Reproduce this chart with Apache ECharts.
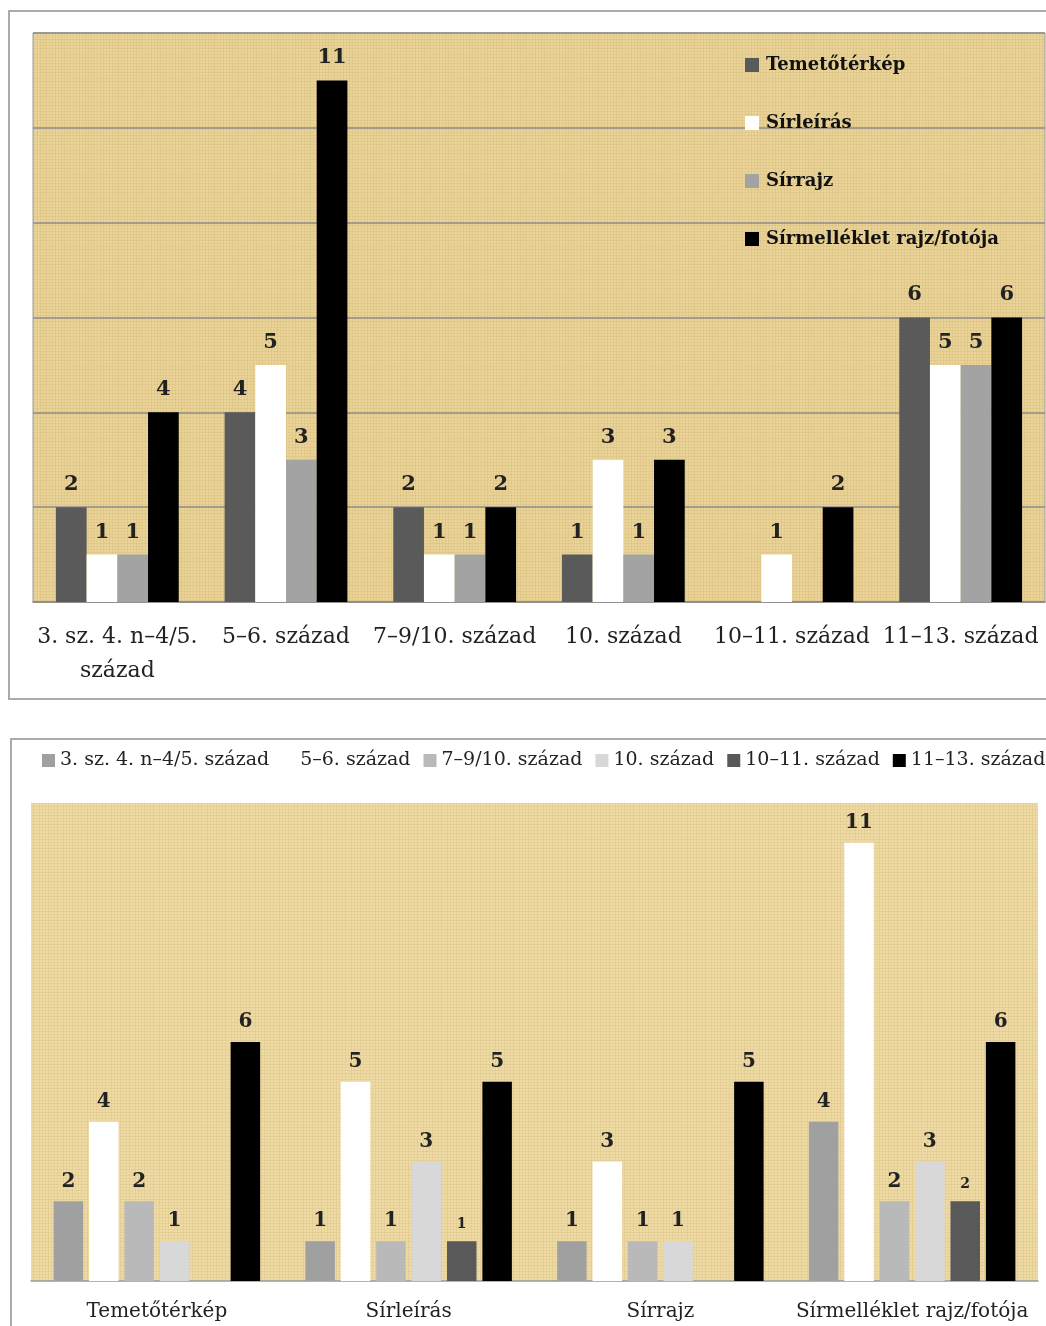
<!DOCTYPE html>
<html><head><meta charset="utf-8">
<script src="https://cdn.jsdelivr.net/npm/echarts@6/dist/echarts.min.js"></script>
<style>
html,body{margin:0;padding:0;background:#fff;overflow:hidden;width:1046px;height:1326px;}
#c1{position:absolute;left:8px;top:10px;width:1100px;height:686px;border:2px solid #ababab;}
#c2{position:absolute;left:10px;top:738px;width:1100px;height:700px;border:2px solid #ababab;}
</style></head>
<body>
<div id="c1"></div>
<div id="c2"></div>
<script>
// ---- data ----
const periods = ['3. sz. 4. n–4/5. század','5–6. század','7–9/10. század','10. század','10–11. század','11–13. század'];
const types = ['Temetőtérkép','Sírleírás','Sírrajz','Sírmelléklet rajz/fotója'];
const temetoterkep = [2,4,2,1,0,6];
const sirleiras    = [1,5,1,3,1,5];
const sirrajz      = [1,3,1,1,0,5];
const sirmelleklet = [4,11,2,3,2,6];
const yTicks = [0,2,4,6,8,10,12];

// ---- styles ----
const typeColors = ['#5a5a5a','#ffffff','#a3a3a3','#000000'];
const periodColors = ['#a0a0a0','#ffffff','#b9b9b9','#d8d8d8','#595959','#000000'];
const FONT = 'DejaVu Serif';

function papyrus(base){
  const c = document.createElement('canvas');
  c.width = 96; c.height = 96;
  const g = c.getContext('2d');
  g.fillStyle = base; g.fillRect(0,0,96,96);
  for (let i=0;i<96;i+=3){
    const a = 0.04 + 0.05*Math.abs(Math.sin(i*1.7));
    g.fillStyle = 'rgba(150,110,40,'+a.toFixed(3)+')';
    g.fillRect(i,0,1,96);
    g.fillRect(0,i,96,1);
    const b = 0.08*Math.abs(Math.cos(i*0.9));
    g.fillStyle = 'rgba(255,245,210,'+b.toFixed(3)+')';
    g.fillRect(i+1,0,1,96);
  }
  return {image:c, repeat:'repeat'};
}
const hideZero = p => p.value === 0 ? '' : String(p.value);

// ---- top chart ----
const typeData = [temetoterkep, sirleiras, sirrajz, sirmelleklet];
const ch1 = echarts.init(document.getElementById('c1'));
ch1.setOption({
  animation:false,
  grid:{left:23, top:21, width:1012, height:569, show:true, backgroundColor:papyrus('#e9d296'), borderColor:'#9a9a9a', borderWidth:1},
  legend:{
    orient:'vertical', left:735, top:43, padding:0, itemWidth:14, itemHeight:14, itemGap:38,
    icon:'rect',
    data: types,
    textStyle:{fontFamily:FONT, fontWeight:'bold', fontSize:18, color:'#111', lineHeight:20, padding:[0,0,0,2]}
  },
  xAxis:{
    type:'category', data:periods,
    axisLine:{lineStyle:{color:'#8c8c8c', width:1.5}},
    axisTick:{show:false},
    axisLabel:{interval:0, margin:18, fontFamily:FONT, fontSize:22, color:'#222', lineHeight:34,
      formatter:(v,i)=> i===0 ? v.replace('/5. ','/5.\n') : v}
  },
  yAxis:{
    type:'value', min:yTicks[0], max:yTicks[yTicks.length-1], interval:yTicks[1]-yTicks[0],
    axisLabel:{show:false}, axisLine:{show:false}, axisTick:{show:false},
    splitLine:{lineStyle:{color:'#8c8c8c', width:1.5}}
  },
  series: types.map((t,i)=>({
    name:t, type:'bar', data:typeData[i], barWidth:30.7, barGap:'0%',
    itemStyle:{color:typeColors[i]},
    label:{show:true, position:'top', distance:12, formatter:hideZero,
      fontFamily:FONT, fontWeight:'bold', fontSize:21, color:'#222'}
  }))
});

// ---- bottom chart ----
const ch2 = echarts.init(document.getElementById('c2'));
ch2.setOption({
  animation:false,
  grid:{left:19, top:63, width:1007, height:478, show:true, backgroundColor:papyrus('#eedaa3'), borderWidth:0},
  legend:{
    orient:'horizontal', left:30, top:11, padding:0, width:1068, itemWidth:13, itemHeight:13, itemGap:13,
    icon:'rect', data:periods,
    textStyle:{fontFamily:FONT, fontSize:19, color:'#222'}
  },
  xAxis:{
    type:'category', data:types,
    axisLine:{lineStyle:{color:'#9a9a9a', width:1.5}},
    axisTick:{show:false},
    axisLabel:{interval:0, margin:21, fontFamily:FONT, fontSize:20, color:'#222'}
  },
  yAxis:{
    type:'value', min:yTicks[0], max:yTicks[yTicks.length-1], interval:yTicks[1]-yTicks[0],
    axisLabel:{show:false}, axisLine:{show:false}, axisTick:{show:false}, splitLine:{show:false}
  },
  series: periods.map((p,i)=>({
    name:p, type:'bar', data: typeData.map(arr=>arr[i]), barWidth:29.5, barGap:'20%',
    itemStyle:{color:periodColors[i]},
    label:{show:true, position:'top', distance:10, formatter:hideZero,
      fontFamily:FONT, fontWeight:'bold', fontSize: i===4 ? 14 : 20, color:'#222'}
  }))
});
</script>
</body></html>
